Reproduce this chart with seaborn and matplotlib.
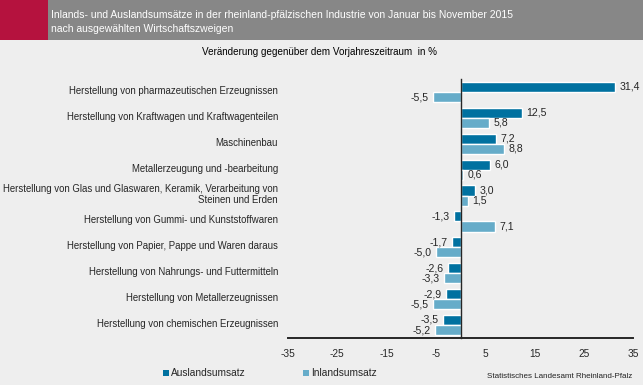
import matplotlib.pyplot as plt
import numpy as np
import pandas as pd
import seaborn as sns
from matplotlib.patches import Rectangle
import matplotlib.transforms as mtransforms

# Daten (von oben nach unten)
zweige = [
    "Herstellung von pharmazeutischen Erzeugnissen",
    "Herstellung von Kraftwagen und Kraftwagenteilen",
    "Maschinenbau",
    "Metallerzeugung und -bearbeitung",
    "Herstellung von Glas und Glaswaren, Keramik, Verarbeitung von\nSteinen und Erden",
    "Herstellung von Gummi- und Kunststoffwaren",
    "Herstellung von Papier, Pappe und Waren daraus",
    "Herstellung von Nahrungs- und Futtermitteln",
    "Herstellung von Metallerzeugnissen",
    "Herstellung von chemischen Erzeugnissen",
]
ausland = [31.4, 12.5, 7.2, 6.0, 3.0, -1.3, -1.7, -2.6, -2.9, -3.5]
inland = [-5.5, 5.8, 8.8, 0.6, 1.5, 7.1, -5.0, -3.3, -5.5, -5.2]
serien = ["Auslandsumsatz", "Inlandsumsatz"]
xticks = [-35, -25, -15, -5, 5, 15, 25, 35]

farben = ["#0071a0", "#66acc9"]
bg = "#eeeeee"

sns.set_style("white")
plt.rcParams['font.family'] = ['Liberation Sans', 'DejaVu Sans']

df = pd.DataFrame({
    "Zweig": zweige * 2,
    "Wert": ausland + inland,
    "Serie": [serien[0]] * len(zweige) + [serien[1]] * len(zweige),
})

fig = plt.figure(figsize=(6.43, 3.85), dpi=100)
fig.patch.set_facecolor(bg)

# Kopfzeile
fig.patches.append(Rectangle((0, 1 - 40 / 385), 1, 40 / 385, transform=fig.transFigure,
                             facecolor="#878787", edgecolor="none", zorder=0))
fig.patches.append(Rectangle((0, 1 - 40 / 385), 48 / 643, 40 / 385, transform=fig.transFigure,
                             facecolor="#b5123e", edgecolor="none", zorder=1))
fig.text(51 / 643, 1 - 15 / 385, "Inlands- und Auslandsumsätze in der rheinland-pfälzischen Industrie von Januar bis November 2015",
         color="white", fontsize=7.5, va="center", ha="left")
fig.text(51 / 643, 1 - 29 / 385, "nach ausgewählten Wirtschaftszweigen",
         color="white", fontsize=7.5, va="center", ha="left")
fig.text(320 / 643, 1 - 52 / 385, "Veränderung gegenüber dem Vorjahreszeitraum  in %",
         color="black", fontsize=7.1, va="center", ha="center")

ax = fig.add_axes([288 / 643, 1 - 338 / 385, 345 / 643, 259 / 385])
ax.set_facecolor(bg)

sns.barplot(data=df, y="Zweig", x="Wert", hue="Serie", orient="h",
            palette=farben, width=0.78, ax=ax, legend=False, saturation=1)

ax.set_xlim(-35, 35)
ax.set_ylim(len(zweige) - 0.5, -0.5)
ax.set_xticks(xticks)
ax.set_xticklabels([str(t) for t in xticks], fontsize=7.3)
ax.tick_params(axis="x", length=0, pad=8)

ax.set_yticks(np.arange(-0.5, len(zweige) - 1, 1))
ax.set_yticklabels([])
ax.tick_params(axis="y", direction="inout", length=5, width=1, color="black")

ax.spines["left"].set_position(("data", 0))
ax.spines["left"].set_linewidth(1)
ax.spines["bottom"].set_linewidth(1.4)
ax.spines["top"].set_visible(False)
ax.spines["right"].set_visible(False)
ax.set_xlabel("")
ax.set_ylabel("")

# Kategorienbeschriftung links
trans = mtransforms.blended_transform_factory(ax.transAxes, ax.transData)
for i, name in enumerate(zweige):
    ax.text(-10 / 345, i - 0.04, name, transform=trans, ha="right", va="center",
            fontsize=6.9, linespacing=1.05)

# Werte an den Balken
for cont in ax.containers:
    for bar in cont:
        w = bar.get_width()
        y = bar.get_y() + bar.get_height() / 2
        txt = f"{w:.1f}".replace(".", ",")
        if w >= 0:
            ax.text(w + 0.9, y, txt, ha="left", va="center", fontsize=7.6)
        else:
            ax.text(w - 0.9, y, txt, ha="right", va="center", fontsize=7.6)

# Legende
for xpos, name, c in [(163, serien[0], farben[0]), (303, serien[1], farben[1])]:
    fig.patches.append(Rectangle((xpos / 643, 1 - 376 / 385), 6 / 643, 6 / 385,
                                 transform=fig.transFigure, facecolor=c, edgecolor="none"))
    fig.text((xpos + 8) / 643, 1 - 373 / 385, name, fontsize=7.3, va="center", ha="left")

fig.text(632 / 643, 1 - 376 / 385, "Statistisches Landesamt Rheinland-Pfalz",
         fontsize=5.8, ha="right", va="center", color="#222222")

fig.savefig("out.png", dpi=100, facecolor=bg)
